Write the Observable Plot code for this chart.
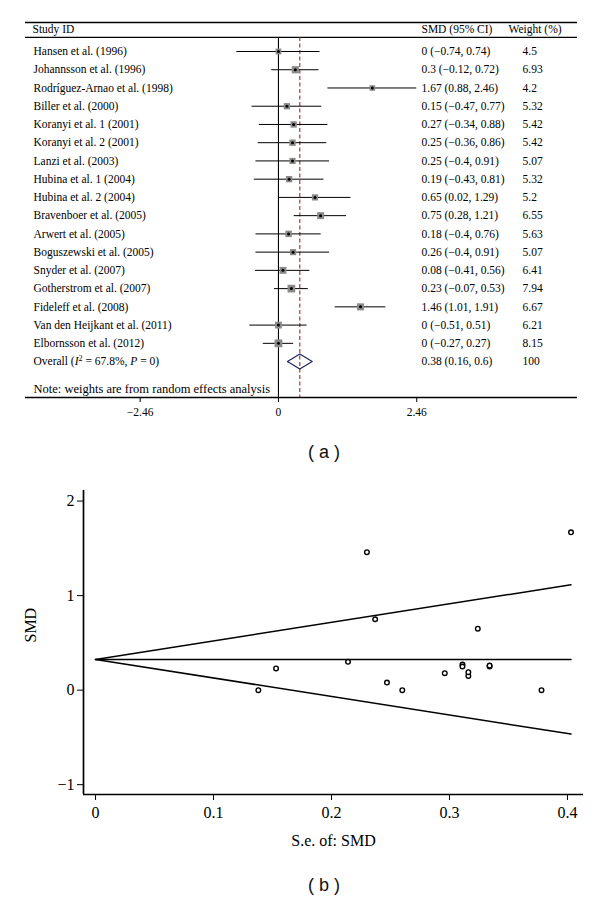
<!DOCTYPE html>
<html>
<head>
<meta charset="utf-8">
<script src="https://cdn.jsdelivr.net/npm/d3@7"></script>
<script src="https://cdn.jsdelivr.net/npm/@observablehq/plot@0.6"></script>
<style>
  html, body { margin: 0; padding: 0; background: #fff; }
  #page { position: relative; width: 600px; height: 906px; overflow: hidden; }
  .panel { position: absolute; left: 0; }
  .cap { position: absolute; left: 0; width: 648px; text-align: center; font-family: "Liberation Sans", Arial, sans-serif; font-size: 18px; line-height: 24px; color: #111; }
</style>
</head>
<body>
<div id="page">
  <div id="panelA" class="panel" style="top:0px"></div>
  <div class="cap" style="top:440px">( a )</div>
  <div id="panelB" class="panel" style="top:470px"></div>
  <div class="cap" style="top:873px">( b )</div>
</div>
<script>
// ---------- data ----------
const studyNames = [
  "Hansen et al. (1996)", "Johannsson et al. (1996)", "Rodríguez-Arnao et al. (1998)",
  "Biller et al. (2000)", "Koranyi et al. 1 (2001)", "Koranyi et al. 2 (2001)",
  "Lanzi et al. (2003)", "Hubina et al. 1 (2004)", "Hubina et al. 2 (2004)",
  "Bravenboer et al. (2005)", "Arwert et al. (2005)", "Boguszewski et al. (2005)",
  "Snyder et al. (2007)", "Gotherstrom et al. (2007)", "Fideleff et al. (2008)",
  "Van den Heijkant et al. (2011)", "Elbornsson et al. (2012)"
];
const smdValues = [0, 0.3, 1.67, 0.15, 0.27, 0.25, 0.25, 0.19, 0.65, 0.75, 0.18, 0.26, 0.08, 0.23, 1.46, 0, 0];
const ciLow  = [-0.74, -0.12, 0.88, -0.47, -0.34, -0.36, -0.4, -0.43, 0.02, 0.28, -0.4, -0.4, -0.41, -0.07, 1.01, -0.51, -0.27];
const ciHigh = [0.74, 0.72, 2.46, 0.77, 0.88, 0.86, 0.91, 0.81, 1.29, 1.21, 0.76, 0.91, 0.56, 0.53, 1.91, 0.51, 0.27];
const weights = [4.5, 6.93, 4.2, 5.32, 5.42, 5.42, 5.07, 5.32, 5.2, 6.55, 5.63, 5.07, 6.41, 7.94, 6.67, 6.21, 8.15];
const seValues = [0.378, 0.214, 0.403, 0.316, 0.311, 0.311, 0.334, 0.316, 0.324, 0.237, 0.296, 0.334, 0.247, 0.153, 0.230, 0.260, 0.138];

const overallLabel = "Overall (I² = 67.8%, P = 0)";
const overallEst = 0.38, overallLow = 0.16, overallHigh = 0.6, overallWeight = 100;
const headerLabels = ["Study ID", "SMD (95% CI)", "Weight (%)"];
const noteLabel = "Note: weights are from random effects analysis";
const forestTicks = [-2.46, 0, 2.46];

const funnelTicksX = [0, 0.1, 0.2, 0.3, 0.4];
const funnelTicksY = [-1, 0, 1, 2];
const funnelXLabel = "S.e. of: SMD";
const funnelYLabel = "SMD";
const funnelCenter = [[0, 0.325], [0.403, 0.325]];
const funnelUpper  = [[0, 0.325], [0.403, 1.115]];
const funnelLower  = [[0, 0.325], [0.403, -0.465]];

// ---------- helpers ----------
const fmt = v => v < 0 ? "\u2212" + String(-v) : String(v);
const studies = studyNames.map((name, i) => ({
  i, name, smd: smdValues[i], lo: ciLow[i], hi: ciHigh[i], w: weights[i], se: seValues[i],
  ci: `${fmt(smdValues[i])} (${fmt(ciLow[i])}, ${fmt(ciHigh[i])})`
}));
const nRows = studies.length;
const overallRow = nRows;
const headerRow = -1.2;
const headerRule = -0.77;
const noteRow = nRows + 1.48;
const yDom = [-1.59, 18.97];
const serif = "'Liberation Serif', 'Times New Roman', serif";

// ---------- panel (a): forest plot ----------
const diamond = [
  {x: overallLow, y: overallRow}, {x: overallEst, y: overallRow - 0.41},
  {x: overallHigh, y: overallRow}, {x: overallEst, y: overallRow + 0.41},
  {x: overallLow, y: overallRow}
];
const textRows = [
  ...studies.map(d => ({y: d.i, a: d.name, b: d.ci, c: String(d.w)})),
  {y: overallRow, a: overallLabel, b: `${fmt(overallEst)} (${fmt(overallLow)}, ${fmt(overallHigh)})`, c: String(overallWeight)}
];
const fs = 11.5;
const plotA = Plot.plot({
  width: 600, height: 430,
  marginTop: 22, marginBottom: 33, marginLeft: 25, marginRight: 23,
  style: {fontFamily: serif, fontSize: fs + "px", color: "#000", background: "#fff"},
  x: {domain: [-4.5, 5.32]},
  y: {domain: yDom, reverse: true, axis: null},
  r: {type: "sqrt", domain: [0, d3.max(weights)], range: [0, 4.4]},
  marks: [
    Plot.ruleY([yDom[0]], {stroke: "#000", strokeWidth: 1.6}),
    Plot.ruleY([headerRule], {stroke: "#000", strokeWidth: 1.3}),
    Plot.ruleY([yDom[1]], {stroke: "#000", strokeWidth: 1.6}),
    Plot.ruleX([0], {y1: headerRule, y2: yDom[1], stroke: "#000", strokeWidth: 1.1}),
    Plot.ruleX([overallEst], {y1: headerRule, y2: yDom[1], stroke: "#9a2b2b", strokeWidth: 1.1, strokeDasharray: "4,2.5"}),
    Plot.ruleY(studies, {y: "i", x1: "lo", x2: "hi", stroke: "#000", strokeWidth: 1}),
    Plot.dot(studies, {x: "smd", y: "i", r: "w", symbol: "square", fill: "#8a8a8a", stroke: null}),
    Plot.dot(studies, {x: "smd", y: "i", r: 1.5, fill: "#000", stroke: null}),
    Plot.line(diamond, {x: "x", y: "y", stroke: "#1d2466", strokeWidth: 1.2, fill: "none"}),
    Plot.axisX({ticks: forestTicks, tickFormat: fmt, tickSize: 5, tickPadding: 5, fontSize: 11.5, label: null}),
    Plot.text(textRows, {y: "y", text: "a", frameAnchor: "left", dx: 8, textAnchor: "start"}),
    Plot.text(textRows, {y: "y", text: "b", frameAnchor: "left", dx: 396, textAnchor: "start"}),
    Plot.text(textRows, {y: "y", text: "c", frameAnchor: "left", dx: 497, textAnchor: "start"}),
    Plot.text([headerLabels[0]], {y: headerRow, text: d => d, frameAnchor: "left", dx: 7, textAnchor: "start"}),
    Plot.text([headerLabels[1]], {y: headerRow, text: d => d, frameAnchor: "left", dx: 396, textAnchor: "start"}),
    Plot.text([headerLabels[2]], {y: headerRow, text: d => d, frameAnchor: "left", dx: 483, textAnchor: "start"}),
    Plot.text([noteLabel], {y: noteRow, text: d => d, frameAnchor: "left", dx: 8, textAnchor: "start", fontSize: 12.5})
  ]
});
document.getElementById("panelA").appendChild(plotA);

// rich text for the overall label (italic I, P and superscript 2)
{
  const t = [...plotA.querySelectorAll("text")].find(e => e.textContent === overallLabel);
  if (t) {
    const ns = "http://www.w3.org/2000/svg";
    t.textContent = "";
    const parts = [
      ["Overall (", {}], ["I", {"font-style": "italic"}], ["2", {"font-size": "8px", dy: "-4"}],
      [" = 67.8%, ", {dy: "4"}], ["P", {"font-style": "italic"}], [" = 0)", {}]
    ];
    for (const [s, attrs] of parts) {
      const ts = document.createElementNS(ns, "tspan");
      ts.textContent = s;
      for (const k in attrs) ts.setAttribute(k, attrs[k]);
      t.appendChild(ts);
    }
  }
}

// ---------- panel (b): funnel plot ----------
const xDomB = [-0.0102, 0.4136];
const yDomB = [-1.104, 2.112];
const plotB = Plot.plot({
  width: 600, height: 400,
  marginTop: 20, marginBottom: 76, marginLeft: 83, marginRight: 17,
  style: {fontFamily: serif, fontSize: "16px", color: "#000", background: "#fff"},
  x: {domain: xDomB},
  y: {domain: yDomB},
  marks: [
    Plot.line(funnelUpper, {x: d => d[0], y: d => d[1], stroke: "#000", strokeWidth: 1.5}),
    Plot.line(funnelLower, {x: d => d[0], y: d => d[1], stroke: "#000", strokeWidth: 1.5}),
    Plot.line(funnelCenter, {x: d => d[0], y: d => d[1], stroke: "#000", strokeWidth: 1.5}),
    Plot.dot(studies, {x: "se", y: "smd", r: 2.3, stroke: "#000", strokeWidth: 1.4, fill: "#fff"}),
    Plot.ruleX([xDomB[0]], {stroke: "#000", strokeWidth: 1.7}),
    Plot.ruleY([yDomB[0]], {stroke: "#000", strokeWidth: 1.7}),
    Plot.axisY({ticks: funnelTicksY, tickFormat: fmt, tickSize: 6, tickPadding: 3, fontSize: 16, label: null}),
    Plot.axisX({ticks: funnelTicksX, tickFormat: d => String(d), tickSize: 6, tickPadding: 6, fontSize: 16, label: null}),
    Plot.text([funnelYLabel], {text: d => d, frameAnchor: "left", dx: -53, rotate: -90, fontSize: 16}),
    Plot.text([funnelXLabel], {text: d => d, frameAnchor: "bottom", dy: 51, fontSize: 16})
  ]
});
document.getElementById("panelB").appendChild(plotB);
</script>
</body>
</html>
